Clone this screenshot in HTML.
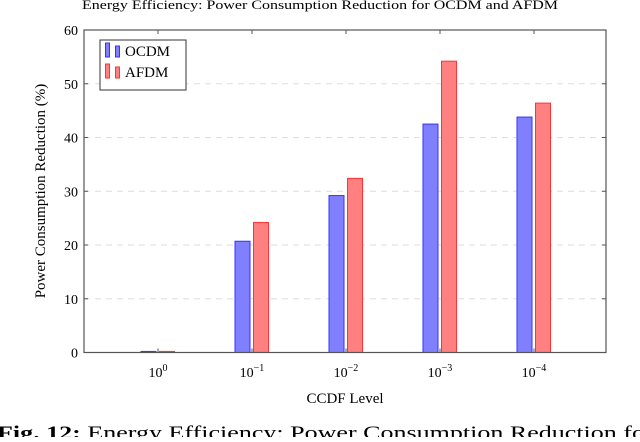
<!DOCTYPE html>
<html><head><meta charset="utf-8"><style>
body{margin:0;background:#fff;width:640px;height:437px;overflow:hidden}
svg{font-family:"Liberation Serif",serif}
</style></head><body>
<svg id="c" width="640" height="437"></svg>
<script>
const categories=["0","−1","−2","−3","−4"];
const ocdm=[0.2,20.7,29.2,42.5,43.8];
const afdm=[0.2,24.2,32.4,54.2,46.4];
const yTicks=[0,10,20,30,40,50,60];
const NS="http://www.w3.org/2000/svg";
const svg=document.getElementById('c');
const X0=84,X1=606,Y0=352.5,Y1=30;
const y=v=>Y0-(v/60)*(Y0-Y1);
const x=i=>158+i*94;
function mk(t,a,p){const e=document.createElementNS(NS,t);for(const k in a)e.setAttribute(k,a[k]);(p||svg).appendChild(e);return e;}
let t=mk('text',{x:82,y:9,'font-size':12.5,textLength:476,lengthAdjust:'spacingAndGlyphs'});

t.textContent='Energy Efficiency: Power Consumption Reduction for OCDM and AFDM';
yTicks.forEach(v=>{
 if(v>0&&v<60){let g=mk('line',{x1:X0,x2:X1,y1:y(v),y2:y(v),stroke:'#ddd','stroke-dasharray':'6,5'});
 }
 mk('line',{x1:X0,x2:X0+4,y1:y(v),y2:y(v),stroke:'#555'});
 mk('line',{x1:X1,x2:X1-4,y1:y(v),y2:y(v),stroke:'#555'});
 let l=mk('text',{x:X0-6,y:y(v)+5,'text-anchor':'end','font-size':14});
 l.textContent=v;
});
categories.forEach((c,i)=>{
 mk('line',{x1:x(i),x2:x(i),y1:Y0,y2:Y0-4,stroke:'#555'});
 mk('line',{x1:x(i),x2:x(i),y1:Y1,y2:Y1+4,stroke:'#555'});
 let l=mk('text',{x:x(i),y:377,'text-anchor':'middle','font-size':14});
 
 l.innerHTML='10<tspan dy="-6" font-size="10">'+c+'</tspan>';
 let b=mk('rect',{x:x(i)-17,y:y(ocdm[i]),width:15,height:Y0-y(ocdm[i]),fill:'#8080ff',stroke:'#3333ff','stroke-width':1});
 
 let r=mk('rect',{x:x(i)+1.5,y:y(afdm[i]),width:15,height:Y0-y(afdm[i]),fill:'#ff8080',stroke:'#ff3333','stroke-width':1});
 
});
let f=mk('rect',{x:X0,y:Y1,width:X1-X0,height:Y0-Y1,fill:'none',stroke:'#555','stroke-width':1.2});

let lg=mk('g',{});
mk('rect',{x:100,y:40,width:86,height:50,fill:'#fff',stroke:'#333'},lg);
[['OCDM','#8080ff','#3333ff',49],['AFDM','#ff8080','#ff3333',70]].forEach(([n,fc,sc,yy])=>{
 mk('rect',{x:105.5,y:yy-6,width:4,height:14,fill:fc,stroke:sc},lg);
 mk('rect',{x:115.5,y:yy-3,width:4,height:11,fill:fc,stroke:sc},lg);
 let e=mk('text',{x:125,y:yy+7,'font-size':15},lg);e.textContent=n;
 
});
let xl=mk('text',{x:345,y:403,'text-anchor':'middle','font-size':15});xl.textContent='CCDF Level';

let yl=mk('text',{x:0,y:0,'text-anchor':'middle','font-size':15,transform:'translate(45,191) rotate(-90)'});yl.textContent='Power Consumption Reduction (%)';

let cp=mk('text',{x:-3,y:439,'font-size':19,textLength:648,lengthAdjust:'spacingAndGlyphs'});

cp.innerHTML='<tspan font-weight="bold">Fig. 12:</tspan> Energy Efficiency: Power Consumption Reduction fo';
</script>
</body></html>
